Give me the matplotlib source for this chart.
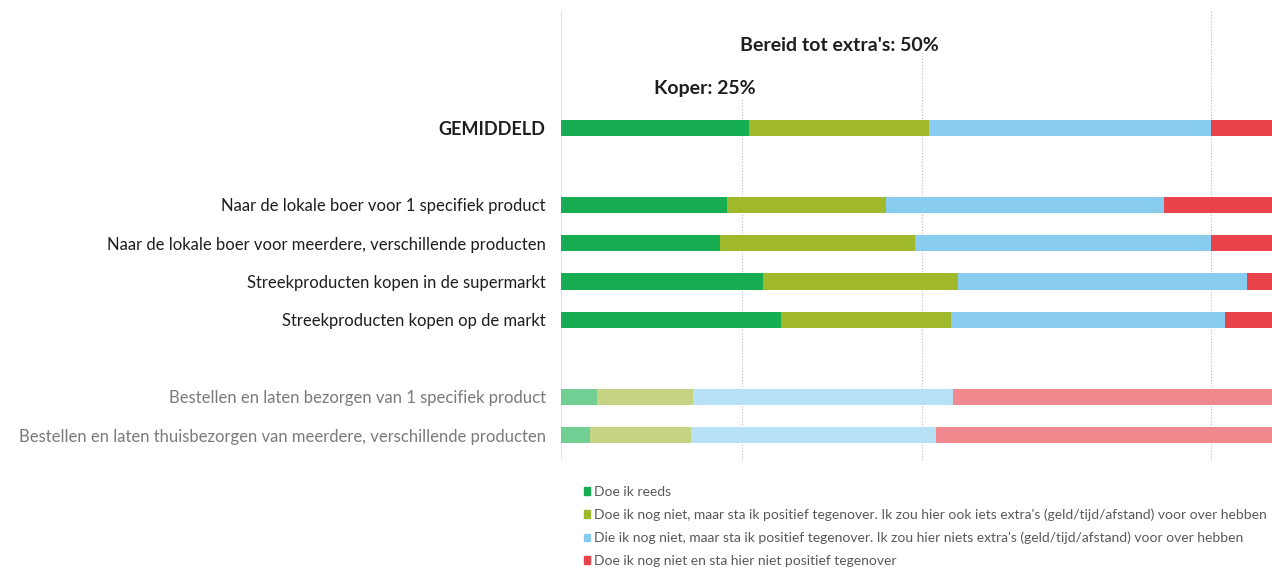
import numpy as np
import matplotlib.pyplot as plt
from matplotlib.patches import Patch

# data (percentages)
categories = [
    "GEMIDDELD",
    "Naar de lokale boer voor 1 specifiek product",
    "Naar de lokale boer voor meerdere, verschillende producten",
    "Streekproducten kopen in de supermarkt",
    "Streekproducten kopen op de markt",
    "Bestellen en laten bezorgen van 1 specifiek product",
    "Bestellen en laten thuisbezorgen van meerdere, verschillende producten",
]
doe_reeds = [26, 23, 22, 28, 30.5, 5, 4]
positief_extra = [25, 22, 27, 27, 23.5, 13.3, 14]
positief_niets = [39, 38.5, 41, 40, 38, 36, 34]
niet_positief = [10, 16.5, 10, 5, 8, 45.7, 48]

series_labels = [
    "Doe ik reeds",
    "Doe ik nog niet, maar sta ik positief tegenover. Ik zou hier ook iets extra's (geld/tijd/afstand) voor over hebben",
    "Die ik nog niet, maar sta ik positief tegenover. Ik zou hier niets extra's (geld/tijd/afstand) voor over hebben",
    "Doe ik nog niet en sta hier niet positief tegenover",
]
markers = [25, 50, 90]

plt.rcParams['font.family'] = ['Lato', 'DejaVu Sans']

colors = ['#17ad52', '#9fb92b', '#88cdef', '#e8424b']
light = ['#72cf93', '#c5d383', '#b7e2f6', '#f2898e']

ypos = np.array([0, 2, 3, 4, 5, 7, 8])
dimmed = [False, False, False, False, False, True, True]

fig = plt.figure(figsize=(12.72, 5.84), dpi=100)
ax = fig.add_axes([561 / 1272, 1 - 465 / 584, 722 / 1272, 455 / 584])

# faint gridlines
ax.vlines(0, 8.65, -3.07, color='#e6e6e6', lw=0.8, zorder=0)
ax.vlines(markers[0], 8.65, -0.75, color='#bbbbbb', lw=0.8, ls=':', zorder=0)
ax.vlines(markers[1], 8.65, -1.98, color='#bbbbbb', lw=0.8, ls=':', zorder=0)
ax.vlines(markers[2], 8.65, -3.07, color='#bbbbbb', lw=0.8, ls=':', zorder=0)

left = np.zeros(len(categories))
handles = []
for vals, c, lc, lab in zip([doe_reeds, positief_extra, positief_niets, niet_positief],
                            colors, light, series_labels):
    cols = [lc if d else c for d in dimmed]
    ax.barh(ypos, vals, left=left, height=0.42, color=cols, zorder=2)
    left += np.array(vals)
    handles.append(Patch(color=c, label=lab))

ax.set_xlim(0, 100)
ax.set_ylim(8.78, -3.075)
ax.set_yticks(ypos)
ax.set_yticklabels(categories)
ax.tick_params(axis='y', length=0, pad=11)
ax.set_xticks([])
for s in ax.spines.values():
    s.set_visible(False)

for lab, d in zip(ax.get_yticklabels(), dimmed):
    lab.set_fontsize(12)
    lab.set_color('#7a7a7a' if d else '#1e1e1e')
first = ax.get_yticklabels()[0]
first.set_fontsize(13)
first.set_fontweight('bold')

ax.text(52.3, -2.16, "Bereid tot extra's: 50%", ha='right', va='center',
        fontsize=14, fontweight='bold', color='#1e1e1e')
ax.text(26.9, -1.04, "Koper: 25%", ha='right', va='center',
        fontsize=14, fontweight='bold', color='#1e1e1e')

leg = fig.legend(handles=handles, loc='upper left', bbox_to_anchor=(584 / 1272, 1 - 486 / 584),
                 frameon=False, fontsize=10, handlelength=0.45, handleheight=0.45,
                 handletextpad=0.3, labelspacing=0.76, borderpad=0, borderaxespad=0)
for t in leg.get_texts():
    t.set_color('#595959')

fig.savefig('out.png', dpi=100, facecolor='white')
